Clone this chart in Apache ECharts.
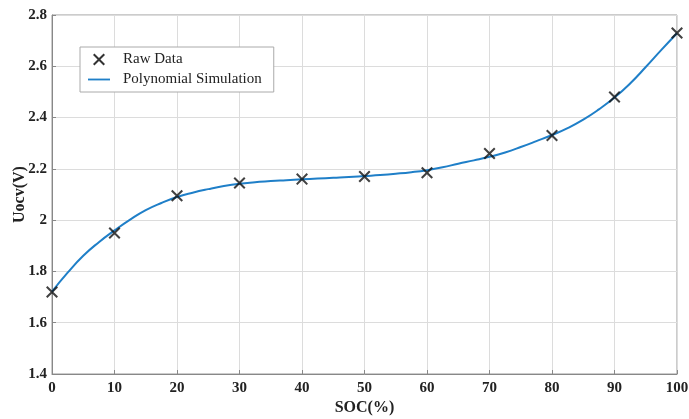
<!DOCTYPE html>
<html>
<head>
<meta charset="utf-8">
<script src="https://cdn.jsdelivr.net/npm/echarts@6/dist/echarts.min.js"></script>
<style>
  html, body { margin: 0; padding: 0; background: #fff; }
  #chart { width: 689px; height: 419px; }
</style>
</head>
<body>
<div id="chart"></div>
<script>
// measured points
const socRaw = [0, 10, 20, 30, 40, 50, 60, 70, 80, 90, 100];
const uocvRaw = [1.72, 1.95, 2.095, 2.145, 2.16, 2.17, 2.185, 2.26, 2.33, 2.48, 2.73];

// fitted curve, every 2.5%
const socFit = [0, 2.5, 5, 7.5, 10, 12.5, 15, 17.5, 20, 22.5, 25, 27.5, 30, 32.5, 35, 37.5, 40, 42.5, 45, 47.5, 50,
  52.5, 55, 57.5, 60, 62.5, 65, 67.5, 70, 72.5, 75, 77.5, 80, 82.5, 85, 87.5, 90, 92.5, 95, 97.5, 100];
const uocvFit = [1.721, 1.795, 1.861, 1.914, 1.96, 2.002, 2.039, 2.067, 2.09, 2.107, 2.121, 2.133, 2.142, 2.148, 2.153, 2.156, 2.159, 2.162, 2.165, 2.168, 2.172,
  2.176, 2.181, 2.187, 2.195, 2.206, 2.22, 2.233, 2.247, 2.264, 2.285, 2.308, 2.332, 2.359, 2.392, 2.432, 2.478, 2.533, 2.597, 2.664, 2.729];

const font = "'Liberation Serif', 'DejaVu Serif', serif";
const crossIcon = "path://M1.2,0 L5,3.8 L8.8,0 L10,1.2 L6.2,5 L10,8.8 L8.8,10 L5,6.2 L1.2,10 L0,8.8 L3.8,5 L0,1.2 Z";
const lineIcon = "path://M0,0 L24,0 L24,2 L0,2 Z";

const chart = echarts.init(document.getElementById("chart"));

chart.setOption({
  backgroundColor: "#fff",
  animation: false,
  grid: {
    left: 52, right: 12, top: 15, bottom: 45,
    outerBoundsMode: "none",
    containLabel: false,
    show: true, borderColor: "#999", borderWidth: 1,
  },
  legend: {
    orient: "vertical",
    left: 80,
    top: 47,
    backgroundColor: "#fff",
    borderColor: "#aaa",
    borderWidth: 1,
    padding: [5, 12, 5, 8],
    itemGap: 5,
    itemWidth: 22,
    itemHeight: 12,
    textStyle: { fontFamily: font, fontSize: 15, color: "#222", padding: [0, 0, 0, 8] },
    data: [
      { name: "Raw Data", icon: crossIcon, itemStyle: { color: "#000" } },
      { name: "Polynomial Simulation", icon: lineIcon, itemStyle: { color: "#1f7fc8" } },
    ],
  },
  xAxis: {
    type: "value",
    min: 0, max: 100, interval: 10,
    name: "SOC(%)",
    nameLocation: "middle",
    nameGap: 26,
    nameMoveOverlap: false,
    nameTextStyle: { fontFamily: font, fontSize: 16, fontWeight: "bold", color: "#222" },
    axisLine: { show: true, lineStyle: { color: "#888" } },
    axisTick: { show: true, inside: true, length: 4, lineStyle: { color: "#888" } },
    axisLabel: { fontFamily: font, fontSize: 15, fontWeight: "bold", color: "#222", margin: 7 },
    splitLine: { show: true, lineStyle: { color: "#dcdcdc" } },
  },
  yAxis: {
    type: "value",
    min: 1.4, max: 2.8, interval: 0.2,
    name: "Uocv(V)",
    nameLocation: "middle",
    nameGap: 24,
    nameMoveOverlap: false,
    nameTextStyle: { fontFamily: font, fontSize: 16, fontWeight: "bold", color: "#222" },
    axisLine: { show: true, lineStyle: { color: "#888" } },
    axisTick: { show: true, inside: true, length: 4, lineStyle: { color: "#888" } },
    axisLabel: {
      fontFamily: font, fontSize: 15, fontWeight: "bold", color: "#222", margin: 5,
      formatter: (v) => String(Math.round(v * 10) / 10),
    },
    splitLine: { show: true, lineStyle: { color: "#dcdcdc" } },
  },
  series: [
    {
      name: "Polynomial Simulation",
      type: "line",
      smooth: 0.5,
      showSymbol: false,
      symbol: "none",
      lineStyle: { color: "#1f7fc8", width: 2 },
      itemStyle: { color: "#1f7fc8" },
      data: socFit.map((x, i) => [x, uocvFit[i]]),
      z: 2,
    },
    {
      name: "Raw Data",
      type: "scatter",
      symbol: crossIcon,
      symbolSize: 12,
      itemStyle: { color: "#111" },
      data: socRaw.map((x, i) => [x, uocvRaw[i]]),
      z: 3,
    },
  ],
});
</script>
</body>
</html>
